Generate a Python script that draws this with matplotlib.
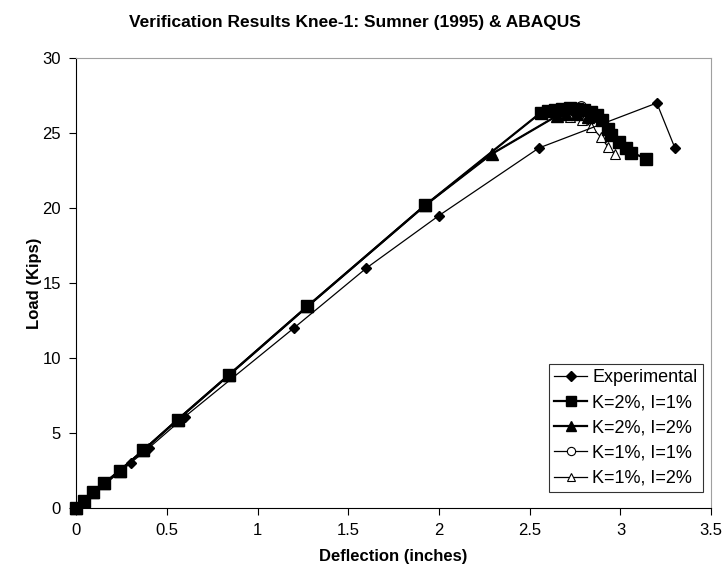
import matplotlib.pyplot as plt

plt.rcParams['font.family'] = ['Liberation Sans', 'DejaVu Sans']

# Experimental (Sumner 1995)
exp_x = [0, 0.3, 0.4, 0.6, 1.2, 1.6, 2.0, 2.55, 3.2, 3.3]
exp_y = [0, 3.0, 4.0, 6.1, 12.0, 16.0, 19.5, 24.0, 27.0, 24.0]

# ABAQUS K=2%, I=1%
k2i1_x = [0, 0.045, 0.095, 0.155, 0.24, 0.37, 0.56, 0.84, 1.275, 1.925,
          2.56, 2.6, 2.64, 2.68, 2.72, 2.76, 2.8, 2.84, 2.87, 2.9, 2.93,
          2.95, 2.99, 3.03, 3.06, 3.14]
k2i1_y = [0, 0.5, 1.05, 1.65, 2.5, 3.85, 5.9, 8.85, 13.45, 20.2,
          26.35, 26.45, 26.55, 26.6, 26.65, 26.6, 26.55, 26.4, 26.2, 25.9, 25.3,
          24.9, 24.4, 24.0, 23.7, 23.3]

# ABAQUS K=2%, I=2%
k2i2_x = [0, 0.045, 0.095, 0.155, 0.24, 0.37, 0.56, 0.84, 1.275, 1.925,
          2.29, 2.65, 2.7, 2.76, 2.82]
k2i2_y = [0, 0.5, 1.05, 1.65, 2.5, 3.85, 5.9, 8.85, 13.45, 20.2,
          23.6, 26.15, 26.3, 26.3, 26.1]

# ABAQUS K=1%, I=1%
k1i1_x = [0, 0.045, 0.095, 0.155, 0.24, 0.37, 0.56, 0.84, 1.275, 1.925,
          2.56, 2.62, 2.68, 2.74, 2.78, 2.82, 2.86]
k1i1_y = [0, 0.5, 1.05, 1.65, 2.5, 3.85, 5.9, 8.85, 13.45, 20.2,
          26.35, 26.55, 26.7, 26.75, 26.8, 26.5, 26.1]

# ABAQUS K=1%, I=2%
k1i2_x = [0, 0.045, 0.095, 0.155, 0.24, 0.37, 0.56, 0.84, 1.275, 1.925,
          2.29, 2.65, 2.72, 2.79, 2.84, 2.89, 2.93, 2.97]
k1i2_y = [0, 0.5, 1.05, 1.65, 2.5, 3.85, 5.9, 8.85, 13.45, 20.2,
          23.6, 26.15, 26.1, 25.9, 25.4, 24.75, 24.1, 23.6]

fig = plt.figure(figsize=(7.25, 5.8), dpi=100)
ax = fig.add_axes([0.105, 0.124, 0.876, 0.776])

ax.plot(k1i1_x, k1i1_y, color='black', lw=0.9, marker='o', ms=7,
        mfc='white', mec='black', mew=0.8, label='K=1%, I=1%', zorder=1, clip_on=False)
ax.plot(k1i2_x, k1i2_y, color='black', lw=0.9, marker='^', ms=7,
        mfc='white', mec='black', mew=0.8, label='K=1%, I=2%', zorder=2, clip_on=False)
ax.plot(k2i2_x, k2i2_y, color='black', lw=1.6, marker='^', ms=8,
        mfc='black', mec='black', label='K=2%, I=2%', zorder=3, clip_on=False)
ax.plot(exp_x, exp_y, color='black', lw=0.9, marker='D', ms=5.5,
        mfc='black', mec='black', label='Experimental', zorder=4, clip_on=False)
ax.plot(k2i1_x, k2i1_y, color='black', lw=1.6, marker='s', ms=8,
        mfc='black', mec='black', label='K=2%, I=1%', zorder=5, clip_on=False)

ax.set_xlim(0, 3.5)
ax.set_ylim(0, 30)
ax.set_xticks([0, 0.5, 1, 1.5, 2, 2.5, 3, 3.5])
ax.set_xticklabels(['0', '0.5', '1', '1.5', '2', '2.5', '3', '3.5'])
ax.set_yticks(range(0, 31, 5))
ax.tick_params(direction='out', length=5, width=0.8, labelsize=12, pad=6)

for side in ['top', 'right']:
    ax.spines[side].set_color('#a0a0a0')
for side in ['left', 'bottom']:
    ax.spines[side].set_color('black')

ax.set_xlabel('Deflection (inches)', fontsize=12, fontweight='bold', labelpad=8)
ax.set_ylabel('Load (Kips)', fontsize=12, fontweight='bold', labelpad=0)
fig.suptitle('Verification Results Knee-1: Sumner (1995) & ABAQUS',
             fontsize=12.5, fontweight='bold', x=0.49, y=0.975)

handles, labels = ax.get_legend_handles_labels()
order = ['Experimental', 'K=2%, I=1%', 'K=2%, I=2%', 'K=1%, I=1%', 'K=1%, I=2%']
hmap = dict(zip(labels, handles))
leg = ax.legend([hmap[l] for l in order], order, loc='lower right',
                bbox_to_anchor=(0.987, 0.035), fontsize=13, frameon=True,
                fancybox=False, edgecolor='black', handlelength=1.8,
                handletextpad=0.3, borderpad=0.3, labelspacing=0.45,
                borderaxespad=0, markerscale=0.85)
leg.get_frame().set_linewidth(0.8)

fig.savefig('out.png', dpi=100)
